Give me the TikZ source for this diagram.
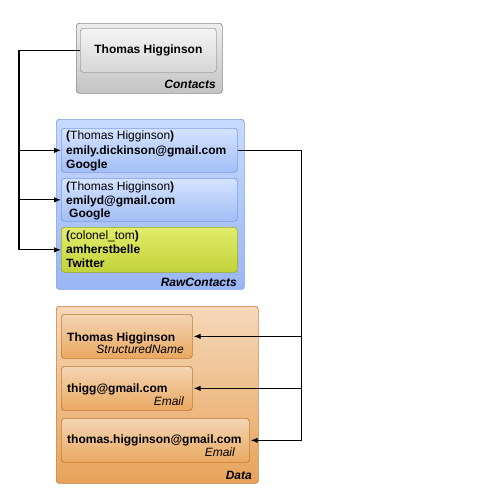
\documentclass[tikz,border=0pt]{standalone}
\usepackage{fontspec}
\setmainfont{Liberation Sans}
\usetikzlibrary{arrows.meta}
\definecolor{grayTop}{HTML}{EDEDED}
\definecolor{grayBot}{HTML}{C4C4C4}
\definecolor{grayLine}{HTML}{8A8A8A}
\definecolor{grayInTop}{HTML}{F4F4F4}
\definecolor{grayInBot}{HTML}{D6D6D6}
\definecolor{blueTop}{HTML}{C8DAFE}
\definecolor{blueBot}{HTML}{9AB5F4}
\definecolor{blueInTop}{HTML}{D4E3FF}
\definecolor{blueInBot}{HTML}{A3BDF6}
\definecolor{blueLine}{HTML}{7C9CE6}
\definecolor{greenTop}{HTML}{E2EC6A}
\definecolor{greenBot}{HTML}{C2D23A}
\definecolor{greenLine}{HTML}{9AAA2A}
\definecolor{orTop}{HTML}{F5D8BA}
\definecolor{orBot}{HTML}{E8A35A}
\definecolor{orInTop}{HTML}{F4D5B4}
\definecolor{orInBot}{HTML}{E9A860}
\definecolor{orLine}{HTML}{C27A34}
\begin{document}
\begin{tikzpicture}[x=1pt,y=-1pt,
  box/.style={draw, rounded corners=3pt, line width=0.7pt, inner sep=0pt, anchor=north west},
  graybox/.style={box, draw=grayLine, top color=grayTop, bottom color=grayBot},
  grayin/.style={box, draw=grayLine!80, top color=grayInTop, bottom color=grayInBot},
  bluebox/.style={box, draw=blueLine, top color=blueTop, bottom color=blueBot},
  bluein/.style={box, draw=blueLine, top color=blueInTop, bottom color=blueInBot},
  greenin/.style={box, draw=greenLine, top color=greenTop, bottom color=greenBot},
  orbox/.style={box, draw=orLine, top color=orTop, bottom color=orBot},
  orin/.style={box, draw=orLine, top color=orInTop, bottom color=orInBot},
  txt/.style={inner sep=0pt, anchor=base west, font=\fontsize{12}{14}\selectfont},
  btxt/.style={txt, font=\fontsize{12}{14}\selectfont\bfseries},
  rtxt/.style={inner sep=0pt, anchor=base east, font=\fontsize{12}{14}\selectfont\itshape},
  lbl/.style={inner sep=0pt, anchor=base east, font=\fontsize{12}{14}\selectfont\bfseries\itshape},
  conn/.style={line width=1.1pt},
  arr/.style={conn, -{Latex[length=7pt,width=5.5pt]}}
]
\useasboundingbox (0,0) rectangle (496,496);
% Contacts
\node[graybox, minimum width=146pt, minimum height=70pt] (contacts) at (76,23) {};
\node[grayin, minimum width=136pt, minimum height=44pt] (ci) at (80,28) {};
\node[inner sep=0pt, font=\fontsize{12}{14}\selectfont\bfseries] (ciT) at (ci.center) {Thomas Higginson};
\node[lbl] (contactsL) at (216,88) {Contacts};
% RawContacts
\node[bluebox, minimum width=188pt, minimum height=170pt] (raw) at (56,119) {};
\node[bluein, minimum width=176pt, minimum height=44pt] (r1) at (61,128) {};
\node[bluein, minimum width=176pt, minimum height=43pt] (r2) at (61,178) {};
\node[greenin, minimum width=176pt, minimum height=45pt] (r3) at (61,227) {};
\node[txt] (r1a) at (66,139) {\textbf{(}Thomas Higginson\textbf{)}};
\node[btxt] (r1b) at (66,154) {emily.dickinson@gmail.com};
\node[btxt] (r1c) at (66,168) {Google};
\node[txt] (r2a) at (66,190) {\textbf{(}Thomas Higginson\textbf{)}};
\node[btxt] (r2b) at (66,204) {emilyd@gmail.com};
\node[btxt] (r2c) at (69,217) {Google};
\node[txt] (r3a) at (66,239) {\textbf{(}colonel\_tom\textbf{)}};
\node[btxt] (r3b) at (66,253) {amherstbelle};
\node[btxt] (r3c) at (66,267) {Twitter};
\node[lbl] (rawL) at (237,286) {RawContacts};
% Data
\node[orbox, minimum width=202pt, minimum height=177pt] (data) at (56,306) {};
\node[orin, minimum width=131pt, minimum height=44pt] (d1) at (61,314) {};
\node[orin, minimum width=131pt, minimum height=44pt] (d2) at (61,366) {};
\node[orin, minimum width=188pt, minimum height=44pt] (d3) at (61,418) {};
\node[btxt] (d1a) at (67,341) {Thomas Higginson};
\node[rtxt] (d1b) at (184,353) {StructuredName};
\node[btxt] (d2a) at (67,392) {thigg@gmail.com};
\node[rtxt] (d2b) at (184,405) {Email};
\node[btxt] (d3a) at (67,443) {thomas.higginson@gmail.com};
\node[rtxt] (d3b) at (235,456) {Email};
\node[lbl] (dataL) at (252,479) {Data};
% connectors left
\path (ci.west) -- ++(-61,0) coordinate (lt);
\path (lt |- r3.west) coordinate (lb);
\draw[conn] (ci.west) -- (lt) -- (lb);
\draw[arr] (lb) -- (r3.west);
\draw[arr] (lt |- r1.west) -- (r1.west);
\draw[arr] (lt |- r2.west) -- (r2.west);
% connectors right
\path (r1.east) -- ++(64,0) coordinate (rt);
\path (rt |- d3.east) coordinate (rb);
\draw[conn] (r1.east) -- (rt) -- (rb);
\draw[arr] (rb) -- ([xshift=1pt]d3.east);
\draw[arr] (rt |- d1.east) -- ([xshift=1pt]d1.east);
\draw[arr] (rt |- d2.east) -- ([xshift=1pt]d2.east);
\end{tikzpicture}
\end{document}
